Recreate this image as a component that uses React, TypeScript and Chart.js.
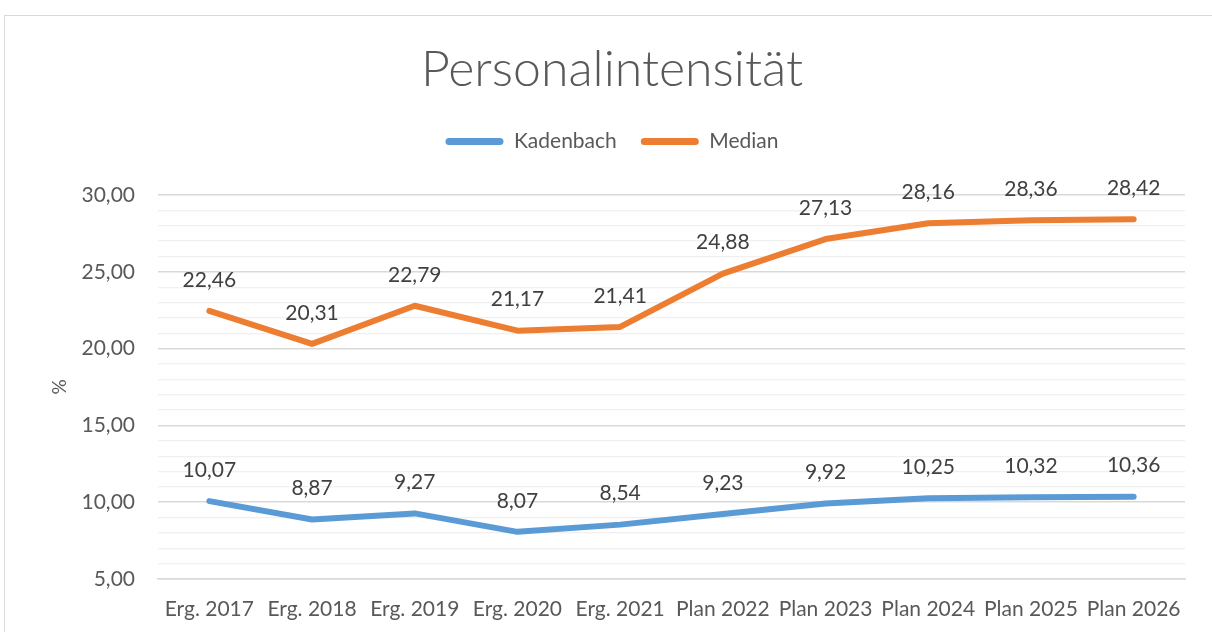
import React, { useEffect, useRef } from "react";
import { Chart, registerables } from "chart.js";

Chart.register(...registerables);

const categories = [
  "Erg. 2017", "Erg. 2018", "Erg. 2019", "Erg. 2020", "Erg. 2021",
  "Plan 2022", "Plan 2023", "Plan 2024", "Plan 2025", "Plan 2026",
];
const kadenbach = [10.07, 8.87, 9.27, 8.07, 8.54, 9.23, 9.92, 10.25, 10.32, 10.36];
const median = [22.46, 20.31, 22.79, 21.17, 21.41, 24.88, 27.13, 28.16, 28.36, 28.42];
const seriesNames = ["Kadenbach", "Median"];
const titleText = "Personalintensität";
const yAxisTitle = "%";
const yMin = 5;
const yMax = 30;

const FONT = "Lato, 'Open Sans', sans-serif";
const FS = 21;
const BLUE = "#5B9BD5";
const ORANGE = "#ED7D31";

const fmt = (v: number) => v.toFixed(2).replace(".", ",");

const dataLabels = {
  id: "dataLabels",
  afterDatasetsDraw(chart: any) {
    const ctx = chart.ctx;
    ctx.save();
    ctx.font = `${FS}px ${FONT}`;
    ctx.fillStyle = "#404040";
    ctx.textAlign = "center";
    ctx.textBaseline = "middle";
    chart.data.datasets.forEach((ds: any, i: number) => {
      const meta = chart.getDatasetMeta(i);
      meta.data.forEach((pt: any, j: number) => {
        ctx.fillText(fmt(ds.data[j]), pt.x, pt.y - 31);
      });
    });
    ctx.restore();
  },
};

export default function App() {
  const ref = useRef<HTMLCanvasElement>(null);
  useEffect(() => {
    if (!ref.current) return;
    const chart = new Chart(ref.current, {
      type: "line",
      data: {
        labels: categories,
        datasets: [
          {
            label: seriesNames[0],
            data: kadenbach,
            borderColor: BLUE,
            backgroundColor: BLUE,
            borderWidth: 6,
            pointRadius: 0,
            borderCapStyle: "round",
            borderJoinStyle: "round",
            tension: 0,
          },
          {
            label: seriesNames[1],
            data: median,
            borderColor: ORANGE,
            backgroundColor: ORANGE,
            borderWidth: 6,
            pointRadius: 0,
            borderCapStyle: "round",
            borderJoinStyle: "round",
            tension: 0,
          },
        ],
      },
      options: {
        responsive: false,
        animation: false,
        devicePixelRatio: 1,
        layout: { padding: { left: 12, right: 0, top: 0, bottom: 0 } },
        plugins: {
          tooltip: { enabled: false },
          title: {
            display: true,
            text: titleText,
            color: "#595959",
            font: { family: FONT, size: 50, weight: "300" as any },
            padding: { top: 40, bottom: 7 },
          },
          legend: {
            display: true,
            position: "top",
            labels: {
              color: "#595959",
              font: { family: FONT, size: FS },
              boxWidth: 58,
              boxHeight: 7,
              padding: 24,
              useBorderRadius: true,
              borderRadius: 3.5,
              generateLabels(chart: any) {
                const items = Chart.defaults.plugins.legend.labels.generateLabels(chart);
                items.forEach((it: any) => {
                  it.lineWidth = 0;
                  it.strokeStyle = "transparent";
                });
                return items;
              },
            },
          },
        },
        scales: {
          x: {
            type: "category",
            offset: true,
            grid: { display: false, drawTicks: false },
            border: { display: true, color: "#d9d9d9", width: 1.5 },
            ticks: {
              color: "#595959",
              font: { family: FONT, size: FS },
              padding: 18,
              maxRotation: 0,
              autoSkip: false,
            },
            afterFit(scale: any) {
              scale.height = 53;
            },
          },
          x2: {
            type: "category",
            position: "top",
            labels: categories,
            grid: { display: false, drawTicks: false },
            border: { display: false },
            ticks: { display: false },
            afterFit(scale: any) {
              scale.height = 33;
            },
          },
          y: {
            min: yMin,
            max: yMax,
            border: { display: false },
            grid: {
              drawTicks: false,
              color: (c: any) => (c.tick && c.tick.value % 5 === 0 ? "#d9d9d9" : "#f0f0f0"),
              lineWidth: (c: any) => (c.tick && c.tick.value % 5 === 0 ? 1.5 : 1.2),
            },
            ticks: {
              stepSize: 1,
              autoSkip: false,
              color: "#595959",
              font: { family: FONT, size: FS },
              padding: 23,
              callback: (v: any) => (Number(v) % 5 === 0 ? fmt(Number(v)) : ""),
            },
            title: {
              display: true,
              text: yAxisTitle,
              color: "#595959",
              font: { family: FONT, size: 19 },
              padding: { top: 36.6, bottom: 0 },
            },
            afterFit(scale: any) {
              scale.width = 146;
            },
          },
          y2: {
            position: "right",
            min: yMin,
            max: yMax,
            grid: { display: false, drawTicks: false },
            border: { display: false },
            ticks: { display: false },
            afterFit(scale: any) {
              scale.width = 27;
            },
          },
        },
      },
      plugins: [dataLabels],
    });
    return () => chart.destroy();
  }, []);

  return (
    <div
      style={{
        position: "fixed",
        left: 0,
        top: 0,
        width: 1212,
        height: 632,
        overflow: "hidden",
        background: "#fff",
      }}
    >
      <div
        style={{
          position: "absolute",
          left: 4,
          top: 15,
          width: 1400,
          height: 800,
          border: "1px solid #d9d9d9",
        }}
      />
      <canvas
        ref={ref}
        width={1212}
        height={632}
        style={{ position: "absolute", left: 0, top: 0, width: 1212, height: 632 }}
      />
    </div>
  );
}
